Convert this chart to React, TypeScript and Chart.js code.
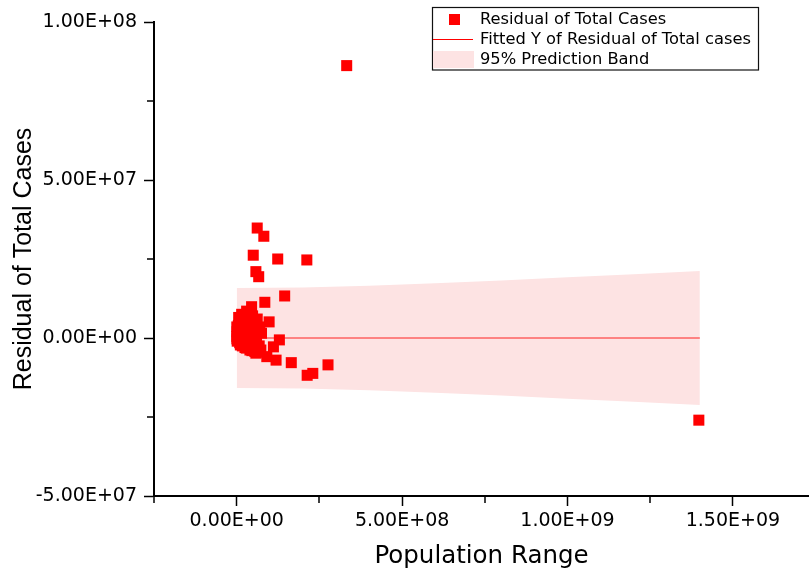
import { useEffect, useRef } from "react";
import { Chart, registerables } from "chart.js";

Chart.register(...registerables);

// Population (x) and residual of total cases (y)
const populationValues: number[] = [
  3.325e8, 1.397e9, 6.2e7, 8.2e7, 5.0e7, 1.24e8, 2.12e8, 5.8e7, 6.65e7, 1.45e8,
  8.5e7, 4.5e7, 9.8e7, 1.29e8, 1.11e8, 1.19e8, 1.65e8, 2.76e8, 2.13e8, 2.3e8, 9.1e7,
  // dense cluster near the origin
  0.3e6, 1e6, 0.5e6, 2e6, 1.5e6, 3e6, 4e6, 2.5e6, 0.8e6, 3.5e6,
  6e6, 8e6, 5e6, 10e6, 7e6, 12e6, 9e6, 11e6, 6e6, 12e6,
  15e6, 18e6, 20e6, 16e6, 22e6, 19e6, 24e6, 17e6, 25e6, 21e6, 23e6,
  30e6, 33e6, 28e6, 36e6, 32e6, 38e6, 30e6, 35e6, 29e6, 40e6, 37e6, 34e6,
  48e6, 52e6, 44e6, 50e6, 54e6, 47e6, 51e6, 46e6, 55e6, 53e6,
  62e6, 70e6, 66e6, 58e6, 60e6, 68e6, 63e6, 73e6, 58e6, 75e6,
];
const residualValues: number[] = [
  8.62e7, -2.6e7, 3.48e7, 3.22e7, 2.62e7, 2.5e7, 2.47e7, 2.1e7, 1.94e7, 1.33e7,
  1.13e7, 9.9e6, 5.1e6, -0.6e6, -2.8e6, -7e6, -7.8e6, -8.5e6, -1.18e7, -1.12e7, -5.9e6,
  3.5e6, 2e6, 0.5e6, -0.5e6, -1e6, 1.2e6, 3e6, 2.8e6, -0.2e6, -0.8e6,
  6.5e6, 5e6, 4e6, 2.5e6, 1e6, -0.5e6, -1.5e6, -2.2e6, 0, 3.5e6,
  7.5e6, 6e6, 4.5e6, 2.5e6, 1e6, -0.5e6, -2e6, -2.5e6, -3e6, 5.5e6, 3e6,
  8.5e6, 7.5e6, 5e6, 6e6, 3e6, 1.5e6, 0, -1.5e6, -3.2e6, -3.8e6, -2.5e6, 4e6,
  7e6, 5.5e6, 3.5e6, 2e6, 0.5e6, -1e6, -3e6, -4e6, -4.3e6, 4e6,
  6e6, 3.5e6, 2.5e6, 1e6, -1e6, -2.5e6, -4.5e6, -3.8e6, -4.8e6, 1.5e6,
];

// Fitted line
const fitX = [0, 1.4e9];
const fitY = [0, 0];

// 95% prediction band
const bandX = [0, 2e8, 4e8, 6e8, 8e8, 1e9, 1.2e9, 1.4e9];
const bandUpper = [1.58e7, 1.6e7, 1.65e7, 1.73e7, 1.82e7, 1.92e7, 2.02e7, 2.12e7];
const bandLower = [-1.58e7, -1.6e7, -1.65e7, -1.73e7, -1.82e7, -1.92e7, -2.02e7, -2.12e7];

// Axis ticks
const xMajorTicks = [0, 5e8, 1e9, 1.5e9];
const xMinorTicks = [-2.5e8, 2.5e8, 7.5e8, 1.25e9];
const yMajorTicks = [-5e7, 0, 5e7, 1e8];
const yMinorTicks = [-2.5e7, 2.5e7, 7.5e7];

const legendLabels = [
  "Residual of Total Cases",
  "Fitted Y of Residual of Total cases",
  "95% Prediction Band",
];

const RED = "#FF0000";
const BAND = "#FDE3E3";

function sci(v: number): string {
  const s = Number(v).toExponential(2);
  const [m, e] = s.split("e");
  const sign = e[0] === "-" ? "-" : "+";
  const digits = e.replace(/[+-]/, "").padStart(2, "0");
  return `${m}E${sign}${digits}`;
}

const minorTicksPlugin = {
  id: "minorTicks",
  afterDraw(chart: any) {
    const { ctx, scales, chartArea } = chart;
    ctx.save();
    ctx.strokeStyle = "#000";
    ctx.lineWidth = 1.5;
    ctx.beginPath();
    xMinorTicks.forEach((v) => {
      const px = Math.round(scales.x.getPixelForValue(v));
      ctx.moveTo(px, chartArea.bottom);
      ctx.lineTo(px, chartArea.bottom + 7);
    });
    yMinorTicks.forEach((v) => {
      const py = Math.round(scales.y.getPixelForValue(v));
      ctx.moveTo(chartArea.left, py);
      ctx.lineTo(chartArea.left - 7, py);
    });
    ctx.stroke();
    ctx.restore();
  },
};

const legendPlugin = {
  id: "originLegend",
  afterDraw(chart: any) {
    const ctx = chart.ctx;
    const left = 432.5;
    const top = 7.5;
    ctx.save();
    ctx.fillStyle = "#fff";
    ctx.fillRect(left, top, 326, 62.5);
    ctx.strokeStyle = "#111";
    ctx.lineWidth = 1.2;
    ctx.strokeRect(left, top, 326, 62.5);
    // row 1: square marker
    ctx.fillStyle = RED;
    ctx.fillRect(left + 16.5, top + 6.5, 11, 11);
    // row 2: line
    ctx.strokeStyle = RED;
    ctx.lineWidth = 1;
    ctx.beginPath();
    ctx.moveTo(left + 0.5, top + 32);
    ctx.lineTo(left + 40.5, top + 32);
    ctx.stroke();
    // row 3: band patch
    ctx.fillStyle = BAND;
    ctx.fillRect(left + 0.5, top + 43.5, 41, 17);
    // labels
    ctx.fillStyle = "#000";
    ctx.font = '16.3px "DejaVu Sans"';
    ctx.textBaseline = "middle";
    ctx.textAlign = "left";
    const rowsY = [top + 12, top + 32, top + 52.5];
    legendLabels.forEach((t, i) => ctx.fillText(t, left + 47.5, rowsY[i]));
    ctx.restore();
  },
};

export default function App() {
  const canvasRef = useRef<HTMLCanvasElement | null>(null);

  useEffect(() => {
    const canvas = canvasRef.current;
    if (!canvas) return;
    const chart = new Chart(canvas, {
      type: "scatter",
      data: {
        datasets: [
          {
            type: "scatter",
            label: legendLabels[0],
            data: populationValues.map((x, i) => ({ x, y: residualValues[i] })),
            pointStyle: "rect",
            pointRadius: 7.8,
            pointHoverRadius: 7.8,
            backgroundColor: RED,
            borderWidth: 0,
            order: 1,
          } as any,
          {
            type: "line",
            label: legendLabels[1],
            data: fitX.map((x, i) => ({ x, y: fitY[i] })),
            borderColor: "#FF2020",
            borderWidth: 1,
            pointRadius: 0,
            fill: false,
            order: 2,
          } as any,
          {
            type: "line",
            label: legendLabels[2],
            data: bandX.map((x, i) => ({ x, y: bandUpper[i] })),
            borderWidth: 0,
            borderColor: "rgba(0,0,0,0)",
            backgroundColor: BAND,
            pointRadius: 0,
            fill: "+1",
            order: 3,
          } as any,
          {
            type: "line",
            label: "band lower",
            data: bandX.map((x, i) => ({ x, y: bandLower[i] })),
            borderWidth: 0,
            borderColor: "rgba(0,0,0,0)",
            pointRadius: 0,
            fill: false,
            order: 4,
          } as any,
        ],
      },
      options: {
        animation: false,
        responsive: false,
        events: [],
        layout: { autoPadding: false, padding: { top: 22, right: 0, bottom: 0, left: 0 } },
        plugins: {
          legend: { display: false },
          tooltip: { enabled: false },
        },
        scales: {
          x: {
            type: "linear",
            min: -2.5e8,
            max: 1.73e9,
            afterBuildTicks: (s: any) => {
              s.ticks = xMajorTicks.map((value) => ({ value }));
            },
            afterFit: (s: any) => {
              s.height = 75;
              s.paddingLeft = 0;
              s.paddingRight = 0;
            },
            grid: {
              display: true,
              drawOnChartArea: false,
              drawTicks: true,
              tickLength: 10,
              tickColor: "#000",
              tickWidth: 1.5,
            },
            border: { display: true, color: "#000", width: 2 },
            ticks: {
              callback: (v: any) => sci(Number(v)),
              color: "#000",
              font: { family: "DejaVu Sans", size: 19 },
              padding: 4,
              maxRotation: 0,
              autoSkip: false,
            },
            title: {
              display: true,
              text: "Population Range",
              color: "#000",
              font: { family: "DejaVu Sans", size: 24.5 },
              padding: { top: 0, bottom: 0 },
            },
          },
          y: {
            type: "linear",
            min: -5e7,
            max: 1e8,
            afterBuildTicks: (s: any) => {
              s.ticks = yMajorTicks.map((value) => ({ value }));
            },
            afterFit: (s: any) => {
              s.width = 154;
              s.paddingTop = 0;
              s.paddingBottom = 0;
            },
            grid: {
              display: true,
              drawOnChartArea: false,
              drawTicks: true,
              tickLength: 10,
              tickColor: "#000",
              tickWidth: 1.5,
            },
            border: { display: true, color: "#000", width: 2 },
            ticks: {
              callback: (v: any) => sci(Number(v)),
              color: "#000",
              font: { family: "DejaVu Sans", size: 19 },
              padding: 7,
              autoSkip: false,
            },
            title: {
              display: true,
              text: "Residual of Total Cases",
              color: "#000",
              font: { family: "Liberation Sans", size: 25 },
              padding: { top: 9, bottom: 0 },
            },
          },
        },
      },
      plugins: [minorTicksPlugin, legendPlugin],
    });
    return () => chart.destroy();
  }, []);

  return (
    <div style={{ position: "absolute", left: 0, top: 0, width: 809, height: 571, background: "#fff" }}>
      <canvas ref={canvasRef} width={809} height={571} style={{ display: "block" }} />
    </div>
  );
}
